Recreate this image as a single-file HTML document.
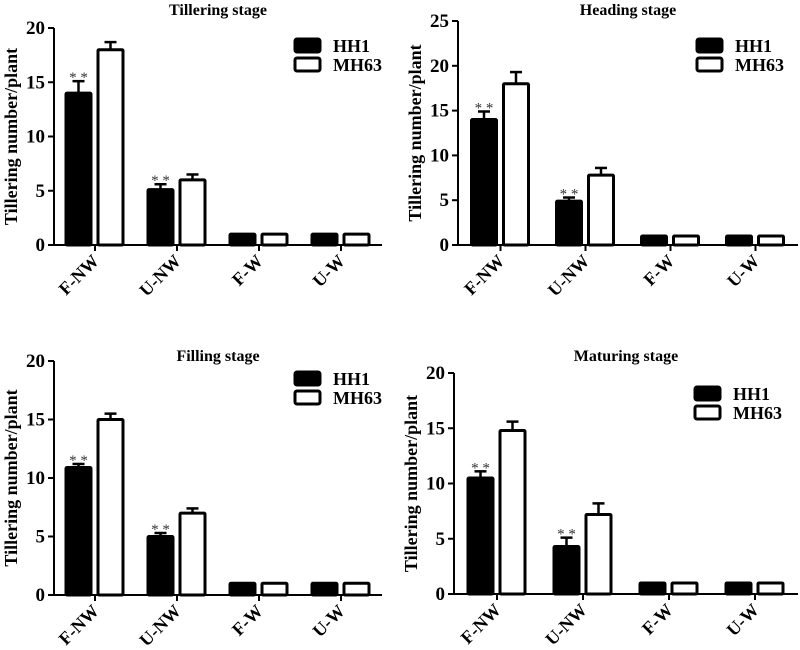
<!DOCTYPE html>
<html><head><meta charset="utf-8"><style>
html,body{margin:0;padding:0;background:#fff}
svg{display:block;font-family:"Liberation Serif",serif;font-weight:bold}
</style></head><body>
<svg id="c" width="800" height="650"></svg>
<script>
const categories=["F-NW","U-NW","F-W","U-W"];
const titles=["Tillering stage","Heading stage","Filling stage","Maturing stage"];
const yMaxes=[20,25,20,20];
const yTicks=[[0,5,10,15,20],[0,5,10,15,20,25],[0,5,10,15,20],[0,5,10,15,20]];
const hh1Values=[[14,5.1,1,1],[14,4.9,1,1],[10.9,5,1,1],[10.5,4.3,1,1]];
const hh1Errors=[[1.1,0.5,0,0],[0.9,0.4,0,0],[0.3,0.3,0,0],[0.6,0.8,0,0]];
const mh63Values=[[18,6,1,1],[18,7.8,1,1],[15,7,1,1],[14.8,7.2,1,1]];
const mh63Errors=[[0.7,0.5,0,0],[1.3,0.8,0,0],[0.5,0.4,0,0],[0.8,1.0,0,0]];
const sigMarks=[[true,true,false,false],[true,true,false,false],[true,true,false,false],[true,true,false,false]];
const panels=[{ax:54,x1:382,y0:245,yt:28,ty:15,lx:295,ly:39},{ax:458,x1:798,y0:245,yt:21,ty:15,lx:697,ly:39},{ax:54,x1:382,y0:595,yt:361,ty:361,lx:295,ly:372},{ax:454,x1:798,y0:594,yt:373,ty:361,lx:695,ly:387}];
const NS="http://www.w3.org/2000/svg";
const svg=document.getElementById('c');
function el(t,a,p){const e=document.createElementNS(NS,t);for(const k in a)e.setAttribute(k,a[k]);(p||svg).appendChild(e);return e;}
panels.forEach((P,pi)=>{
  const g=el('g',{});
  
  
  const yS=v=>P.y0-(P.y0-P.yt)*v/yMaxes[pi];
  const cw=(P.x1-P.ax)/4;
  const xC=i=>P.ax+cw*(i+0.5);
  const mid=(P.ax+P.x1)/2;
  const t=el('text',{x:mid,y:P.ty,'text-anchor':'middle','font-size':16},g);t.textContent=titles[pi];
  
  const yl=el('text',{transform:`translate(${P.ax-37},${(P.y0+P.yt)/2}) rotate(-90)`,'text-anchor':'middle','font-size':18},g);yl.textContent="Tillering number/plant";
  
  el('line',{x1:P.ax,y1:P.yt,x2:P.ax,y2:P.y0+1,stroke:'#000','stroke-width':2},g);
  el('line',{x1:P.ax-1,y1:P.y0,x2:P.x1,y2:P.y0,stroke:'#000','stroke-width':2},g);
  yTicks[pi].forEach(v=>{
    el('line',{x1:P.ax-6,y1:yS(v),x2:P.ax,y2:yS(v),stroke:'#000','stroke-width':2},g);
    const tl=el('text',{x:P.ax-9,y:yS(v)+6,'text-anchor':'end','font-size':19},g);tl.textContent=v;
    
  });
  categories.forEach((c,i)=>{
    const x=xC(i);
    el('line',{x1:x,y1:P.y0,x2:x,y2:P.y0+6,stroke:'#000','stroke-width':2},g);
    const cl=el('text',{transform:`translate(${x+5},${P.y0+17}) rotate(-45)`,'text-anchor':'end','font-size':18},g);cl.textContent=c;
    
    [[hh1Values,hh1Errors,'#000',-29],[mh63Values,mh63Errors,'#fff',3]].forEach(([V,E,f,dx],si)=>{
      const v=V[pi][i],e=E[pi][i],bx=x+dx,bw=25;
      if(e>0){el('line',{x1:bx+bw/2,y1:yS(v),x2:bx+bw/2,y2:yS(v+e),stroke:'#000','stroke-width':2.5},g);
        el('line',{x1:bx+bw/2-6,y1:yS(v+e),x2:bx+bw/2+6,y2:yS(v+e),stroke:'#000','stroke-width':2.5},g);}
      const r=el('rect',{x:bx,y:yS(v),width:bw,height:P.y0-yS(v),fill:f,stroke:'#000','stroke-width':3,rx:1},g);
      
      
      if(si===0&&sigMarks[pi][i]){const s=el('text',{x:bx+bw/2,y:yS(v+e)+1,'text-anchor':'middle','font-size':15,'font-weight':'normal',fill:'#333'},g);s.textContent="* *";
        }
    });
  });
  const lx=P.lx,ly=P.ly;
  [['HH1','#000'],['MH63','#fff']].forEach(([n,f],k)=>{
    el('rect',{x:lx,y:ly+k*19,width:25,height:13,fill:f,stroke:'#000','stroke-width':3,rx:2},g);
    const lt=el('text',{x:lx+38,y:ly+k*19+13,'font-size':18},g);lt.textContent=n;
    
  });
});
</script>
</body></html>
